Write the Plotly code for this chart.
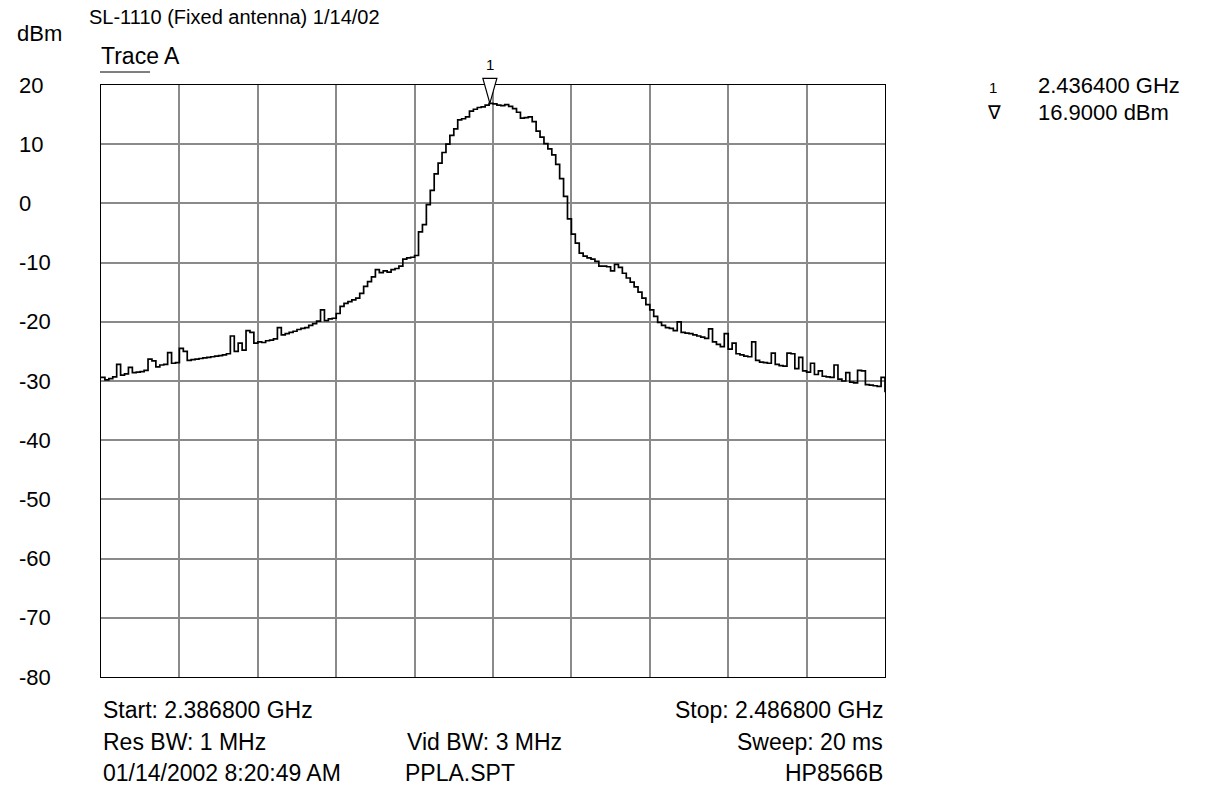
import numpy as np
import plotly.graph_objects as go

# Sweep settings (GHz)
f_start = 2.3868
f_stop = 2.4868

# Trace A, 201 points across the sweep (dBm)
trace_a = [
    -29.4, -29.8, -29.6, -29.3, -27.2, -29.0, -28.8, -27.7, -28.6, -28.5,
    -28.4, -28.2, -26.3, -26.6, -27.6, -27.3, -27.2, -25.2, -27.0, -26.9,
    -24.5, -25.0, -26.5, -26.4, -26.3, -26.2, -26.1, -26.0, -25.9, -25.8,
    -25.7, -25.6, -25.4, -22.4, -25.0, -23.6, -24.8, -21.5, -21.8, -23.6,
    -23.4, -23.5, -23.2, -23.1, -22.9, -21.0, -22.2, -22.0, -21.8, -21.6,
    -21.3, -21.1, -21.0, -20.6, -20.3, -19.9, -18.0, -19.8, -19.5, -19.4,
    -18.6, -17.4, -16.9, -16.6, -16.3, -16.0, -15.2, -14.0, -13.2, -12.4,
    -11.2, -11.7, -11.4, -11.6, -11.2, -11.0, -10.6, -9.4, -9.2, -9.1,
    -8.8, -4.8, -3.6, -0.2, 2.2, 5.0, 6.8, 8.6, 10.0, 11.5,
    12.6, 14.1, 14.3, 14.6, 15.6, 15.9, 16.2, 16.3, 16.6, 16.9,
    16.8, 16.6, 16.5, 16.7, 16.4, 16.0, 15.4, 14.4, 14.5, 14.6,
    13.8, 12.2, 11.2, 10.1, 9.2, 8.2, 6.6, 4.2, 1.2, -2.6,
    -5.2, -6.7, -8.4, -8.9, -9.2, -9.4, -9.8, -10.6, -10.6, -10.7,
    -11.4, -10.3, -10.8, -11.8, -12.6, -13.3, -14.1, -15.0, -16.0, -17.1,
    -18.0, -19.1, -20.1, -20.6, -21.0, -21.1, -21.5, -20.0, -21.8, -21.9,
    -22.0, -22.2, -22.4, -22.6, -22.8, -21.2, -23.4, -23.8, -24.2, -22.0,
    -24.6, -23.6, -25.4, -25.6, -25.8, -25.9, -23.4, -26.5, -26.8, -26.9,
    -27.0, -25.3, -27.2, -27.4, -27.5, -25.3, -25.4, -27.9, -26.0, -28.3,
    -28.5, -27.0, -28.9, -28.3, -29.2, -29.3, -29.4, -27.3, -29.7, -30.0,
    -28.6, -30.2, -30.3, -28.2, -28.3, -30.6, -30.7, -30.8, -30.9, -29.4,
    -31.9,
]

# Marker 1
marker_freq = 2.4364
marker_level = 16.9

# Amplitude axis
y_ticks = [20, 10, 0, -10, -20, -30, -40, -50, -60, -70, -80]
y_tick_labels = ["20", "10", "0", "-10", "-20", "-30", "-40", "-50", "-60", "-70", "-80"]

# Header / footer text
title_text = "SL-1110 (Fixed antenna) 1/14/02"
trace_name = "Trace A"
res_bw = "1 MHz"
vid_bw = "3 MHz"
sweep_time = "20 ms"
timestamp = "01/14/2002 8:20:49 AM"
state_file = "PPLA.SPT"
instrument = "HP8566B"

freqs = np.linspace(f_start, f_stop, len(trace_a))
y_min, y_max = y_ticks[-1], y_ticks[0]

# Page geometry (pixels)
W, H = 1206, 790
L, R, T, B = 101, 321, 85, 113
PW, PH = W - L - R, H - T - B
FONT = "Liberation Sans, Arial, Helvetica, sans-serif"


def px(x):
    return (x - L) / PW


def py(y):
    return 1 - (y - T) / PH


fig = go.Figure()
fig.add_trace(go.Scatter(
    x=freqs, y=trace_a, mode="lines", line=dict(color="black", width=1.7, shape="hv"),
    hoverinfo="skip", showlegend=False,
))

annotations = []


def text(x, y, s, size=23, xanchor="left", yanchor="middle"):
    annotations.append(dict(
        x=px(x), y=py(y), xref="paper", yref="paper", text=s, showarrow=False,
        xanchor=xanchor, yanchor=yanchor, font=dict(family=FONT, size=size, color="black"),
    ))


# Tick labels on the amplitude axis, left-aligned
for v, lab in zip(y_ticks, y_tick_labels):
    annotations.append(dict(
        x=px(17), y=v, xref="paper", yref="y", text=lab, showarrow=False,
        xanchor="left", yanchor="middle", font=dict(family=FONT, size=22, color="black"),
    ))

text(15, 34, "dBm", size=22)
text(87, 17, title_text, size=20)
text(99, 56, trace_name)

# Marker position expressed as plot-area fractions (so the symbol may sit above the frame)
mx = (marker_freq - f_start) / (f_stop - f_start)
my = (marker_level - y_min) / (y_max - y_min)

# Marker label above the marker triangle
annotations.append(dict(
    x=mx, y=my, xref="paper", yref="paper", text="1", showarrow=False,
    xanchor="center", yanchor="bottom", yshift=28, font=dict(family=FONT, size=15, color="black"),
))

# Marker readout on the right
text(987, 87, "1", size=15)
text(985, 112, "∇", size=19)
text(1036, 86, f"{marker_freq:.6f} GHz", size=22)
text(1036, 113, f"{marker_level:.4f} dBm", size=22)

# Footer
text(101, 710, f"Start: {f_start:.6f} GHz")
text(885, 710, f"Stop: {f_stop:.6f} GHz", xanchor="right")
text(101, 742, f"Res BW: {res_bw}")
text(484, 742, f"Vid BW: {vid_bw}", xanchor="center")
text(885, 742, f"Sweep: {sweep_time}", xanchor="right")
text(101, 773, timestamp)
text(460, 773, state_file, xanchor="center")
text(885, 773, instrument, xanchor="right")

shapes = [
    # underline beneath the trace name
    dict(type="line", xref="paper", yref="paper", x0=px(100), x1=px(150), y0=py(72), y1=py(72),
         line=dict(color="black", width=1)),
    # open marker triangle, tip on the marker point
    dict(type="path", xref="paper", yref="paper", xsizemode="pixel", ysizemode="pixel",
         xanchor=mx, yanchor=my, layer="above",
         path="M 0 0 L -7 25 L 7 25 Z", line=dict(color="black", width=1.2),
         fillcolor="white"),
]

fig.update_layout(
    width=W, height=H, margin=dict(l=L, r=R, t=T, b=B),
    paper_bgcolor="white", plot_bgcolor="white",
    annotations=annotations, shapes=shapes,
    xaxis=dict(range=[f_start, f_stop], tick0=f_start, dtick=(f_stop - f_start) / 10,
               showticklabels=False, ticks="", showgrid=True, gridcolor="#8a8a8a", gridwidth=2,
               showline=True, linecolor="black", linewidth=1, mirror=True, zeroline=False),
    yaxis=dict(range=[y_min, y_max], tick0=y_min, dtick=10,
               showticklabels=False, ticks="", showgrid=True, gridcolor="#8a8a8a", gridwidth=2,
               showline=True, linecolor="black", linewidth=1, mirror=True, zeroline=False),
)

fig.write_html("out.html")
